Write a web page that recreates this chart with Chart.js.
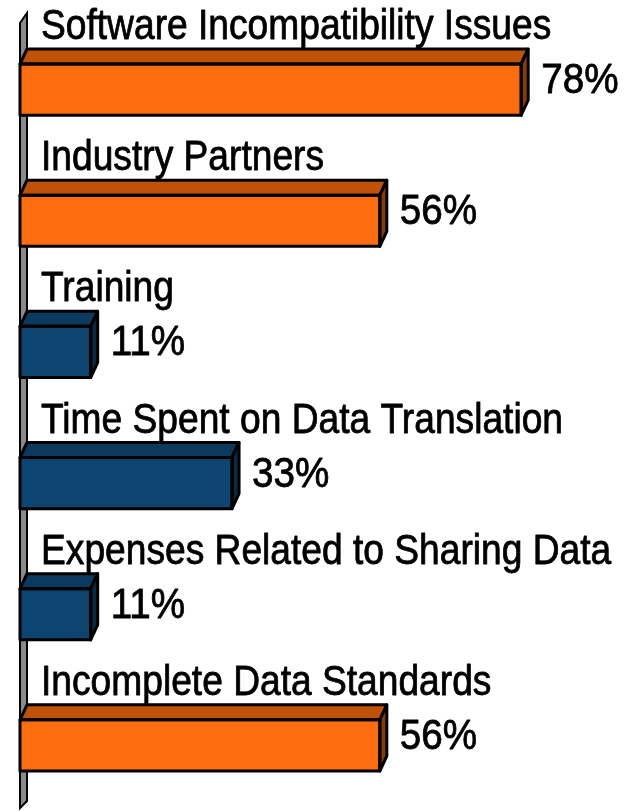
<!DOCTYPE html>
<html lang="en">
<head>
    <meta charset="UTF-8">
    <title>Data Sharing Barriers</title>
    <script src="https://cdn.jsdelivr.net/npm/chart.js"></script>
    <style>
        body {
            margin: 0;
            padding: 0;
            background: white;
            overflow: hidden;
        }
        .chart-container {
            width: 626px;
            height: 811px;
        }
    </style>
</head>
<body>
    <div class="chart-container">
        <canvas id="barChart"></canvas>
    </div>

    <script>
        const categories = [
            "Software Incompatibility Issues",
            "Industry Partners",
            "Training",
            "Time Spent on Data Translation",
            "Expenses Related to Sharing Data",
            "Incomplete Data Standards"
        ];
        const percentages = [78, 56, 11, 33, 11, 56];

        // colours: front / top / side faces
        const orange = ["#fd6d0f", "#c05208", "#8a3a06"];
        const blue = ["#0d4470", "#0b3a5e", "#082a45"];
        const barColors = [orange, orange, blue, blue, blue, orange];

        const depth = { dx: 7, dy: -15 };
        const fontName = "'Liberation Sans', Arial, sans-serif";

        // condensed text, the original uses a narrow face
        function narrowText(ctx, text, x, y, size, squeeze) {
            ctx.save();
            ctx.translate(x, y);
            ctx.scale(squeeze, 1);
            ctx.font = size + "px " + fontName;
            ctx.lineWidth = 0.8;
            ctx.strokeStyle = "#000";
            ctx.fillText(text, 0, 0);
            ctx.strokeText(text, 0, 0);
            ctx.restore();
        }

        const wall3d = {
            id: "wall3d",
            beforeDatasetsDraw(chart) {
                const ctx = chart.ctx;
                const x0 = chart.scales.x.getPixelForValue(0);
                const top = 23;
                const bottom = 808;
                ctx.save();
                ctx.beginPath();
                ctx.moveTo(x0, bottom);
                ctx.lineTo(x0, top);
                ctx.lineTo(x0 + 7, top - 10);
                ctx.lineTo(x0 + 7, bottom - 7);
                ctx.closePath();
                ctx.fillStyle = "#8a8a8a";
                ctx.fill();
                ctx.lineWidth = 2;
                ctx.strokeStyle = "#000";
                ctx.stroke();
                ctx.restore();
            }
        };

        const bars3d = {
            id: "bars3d",
            afterDatasetsDraw(chart) {
                const ctx = chart.ctx;
                const meta = chart.getDatasetMeta(0);
                ctx.save();
                ctx.lineWidth = 3;
                ctx.lineJoin = "round";
                ctx.strokeStyle = "#000";
                meta.data.forEach((bar, i) => {
                    const { x, y, base, height } = bar.getProps(["x", "y", "base", "height"], true);
                    const top = y - height / 2;
                    const bottom = y + height / 2;
                    const c = barColors[i];

                    ctx.lineWidth = 3;
                    ctx.strokeStyle = "#000";

                    // top face
                    ctx.beginPath();
                    ctx.moveTo(base, top);
                    ctx.lineTo(base + depth.dx, top + depth.dy);
                    ctx.lineTo(x + depth.dx, top + depth.dy);
                    ctx.lineTo(x, top);
                    ctx.closePath();
                    ctx.fillStyle = c[1];
                    ctx.fill();
                    ctx.stroke();

                    // side face
                    ctx.beginPath();
                    ctx.moveTo(x, top);
                    ctx.lineTo(x + depth.dx, top + depth.dy);
                    ctx.lineTo(x + depth.dx, bottom + depth.dy);
                    ctx.lineTo(x, bottom);
                    ctx.closePath();
                    ctx.fillStyle = c[2];
                    ctx.fill();
                    ctx.stroke();

                    // front outline
                    ctx.strokeRect(base, top, x - base, height);

                    // category label above the bar
                    ctx.fillStyle = "#000";
                    ctx.textAlign = "left";
                    ctx.textBaseline = "alphabetic";
                    narrowText(ctx, chart.data.labels[i], base + 21, top - 25, 42, 0.885);

                    // value to the right
                    ctx.textBaseline = "middle";
                    narrowText(ctx, percentages[i] + "%", x + 20, y - 8, 42, 0.92);
                });
                ctx.restore();
            }
        };

        const ctx = document.getElementById("barChart").getContext("2d");
        new Chart(ctx, {
            type: "bar",
            data: {
                labels: categories,
                datasets: [{
                    data: percentages,
                    backgroundColor: barColors.map(c => c[0]),
                    borderWidth: 0,
                    categoryPercentage: 1,
                    barPercentage: 0.39
                }]
            },
            options: {
                indexAxis: "y",
                responsive: true,
                maintainAspectRatio: false,
                animation: false,
                layout: { padding: { left: 20, right: 2, top: 24, bottom: 0 } },
                plugins: {
                    legend: { display: false },
                    tooltip: { enabled: false }
                },
                scales: {
                    x: { display: false, min: 0, max: 94 },
                    y: { display: false }
                }
            },
            plugins: [wall3d, bars3d]
        });
    </script>
</body>
</html>
